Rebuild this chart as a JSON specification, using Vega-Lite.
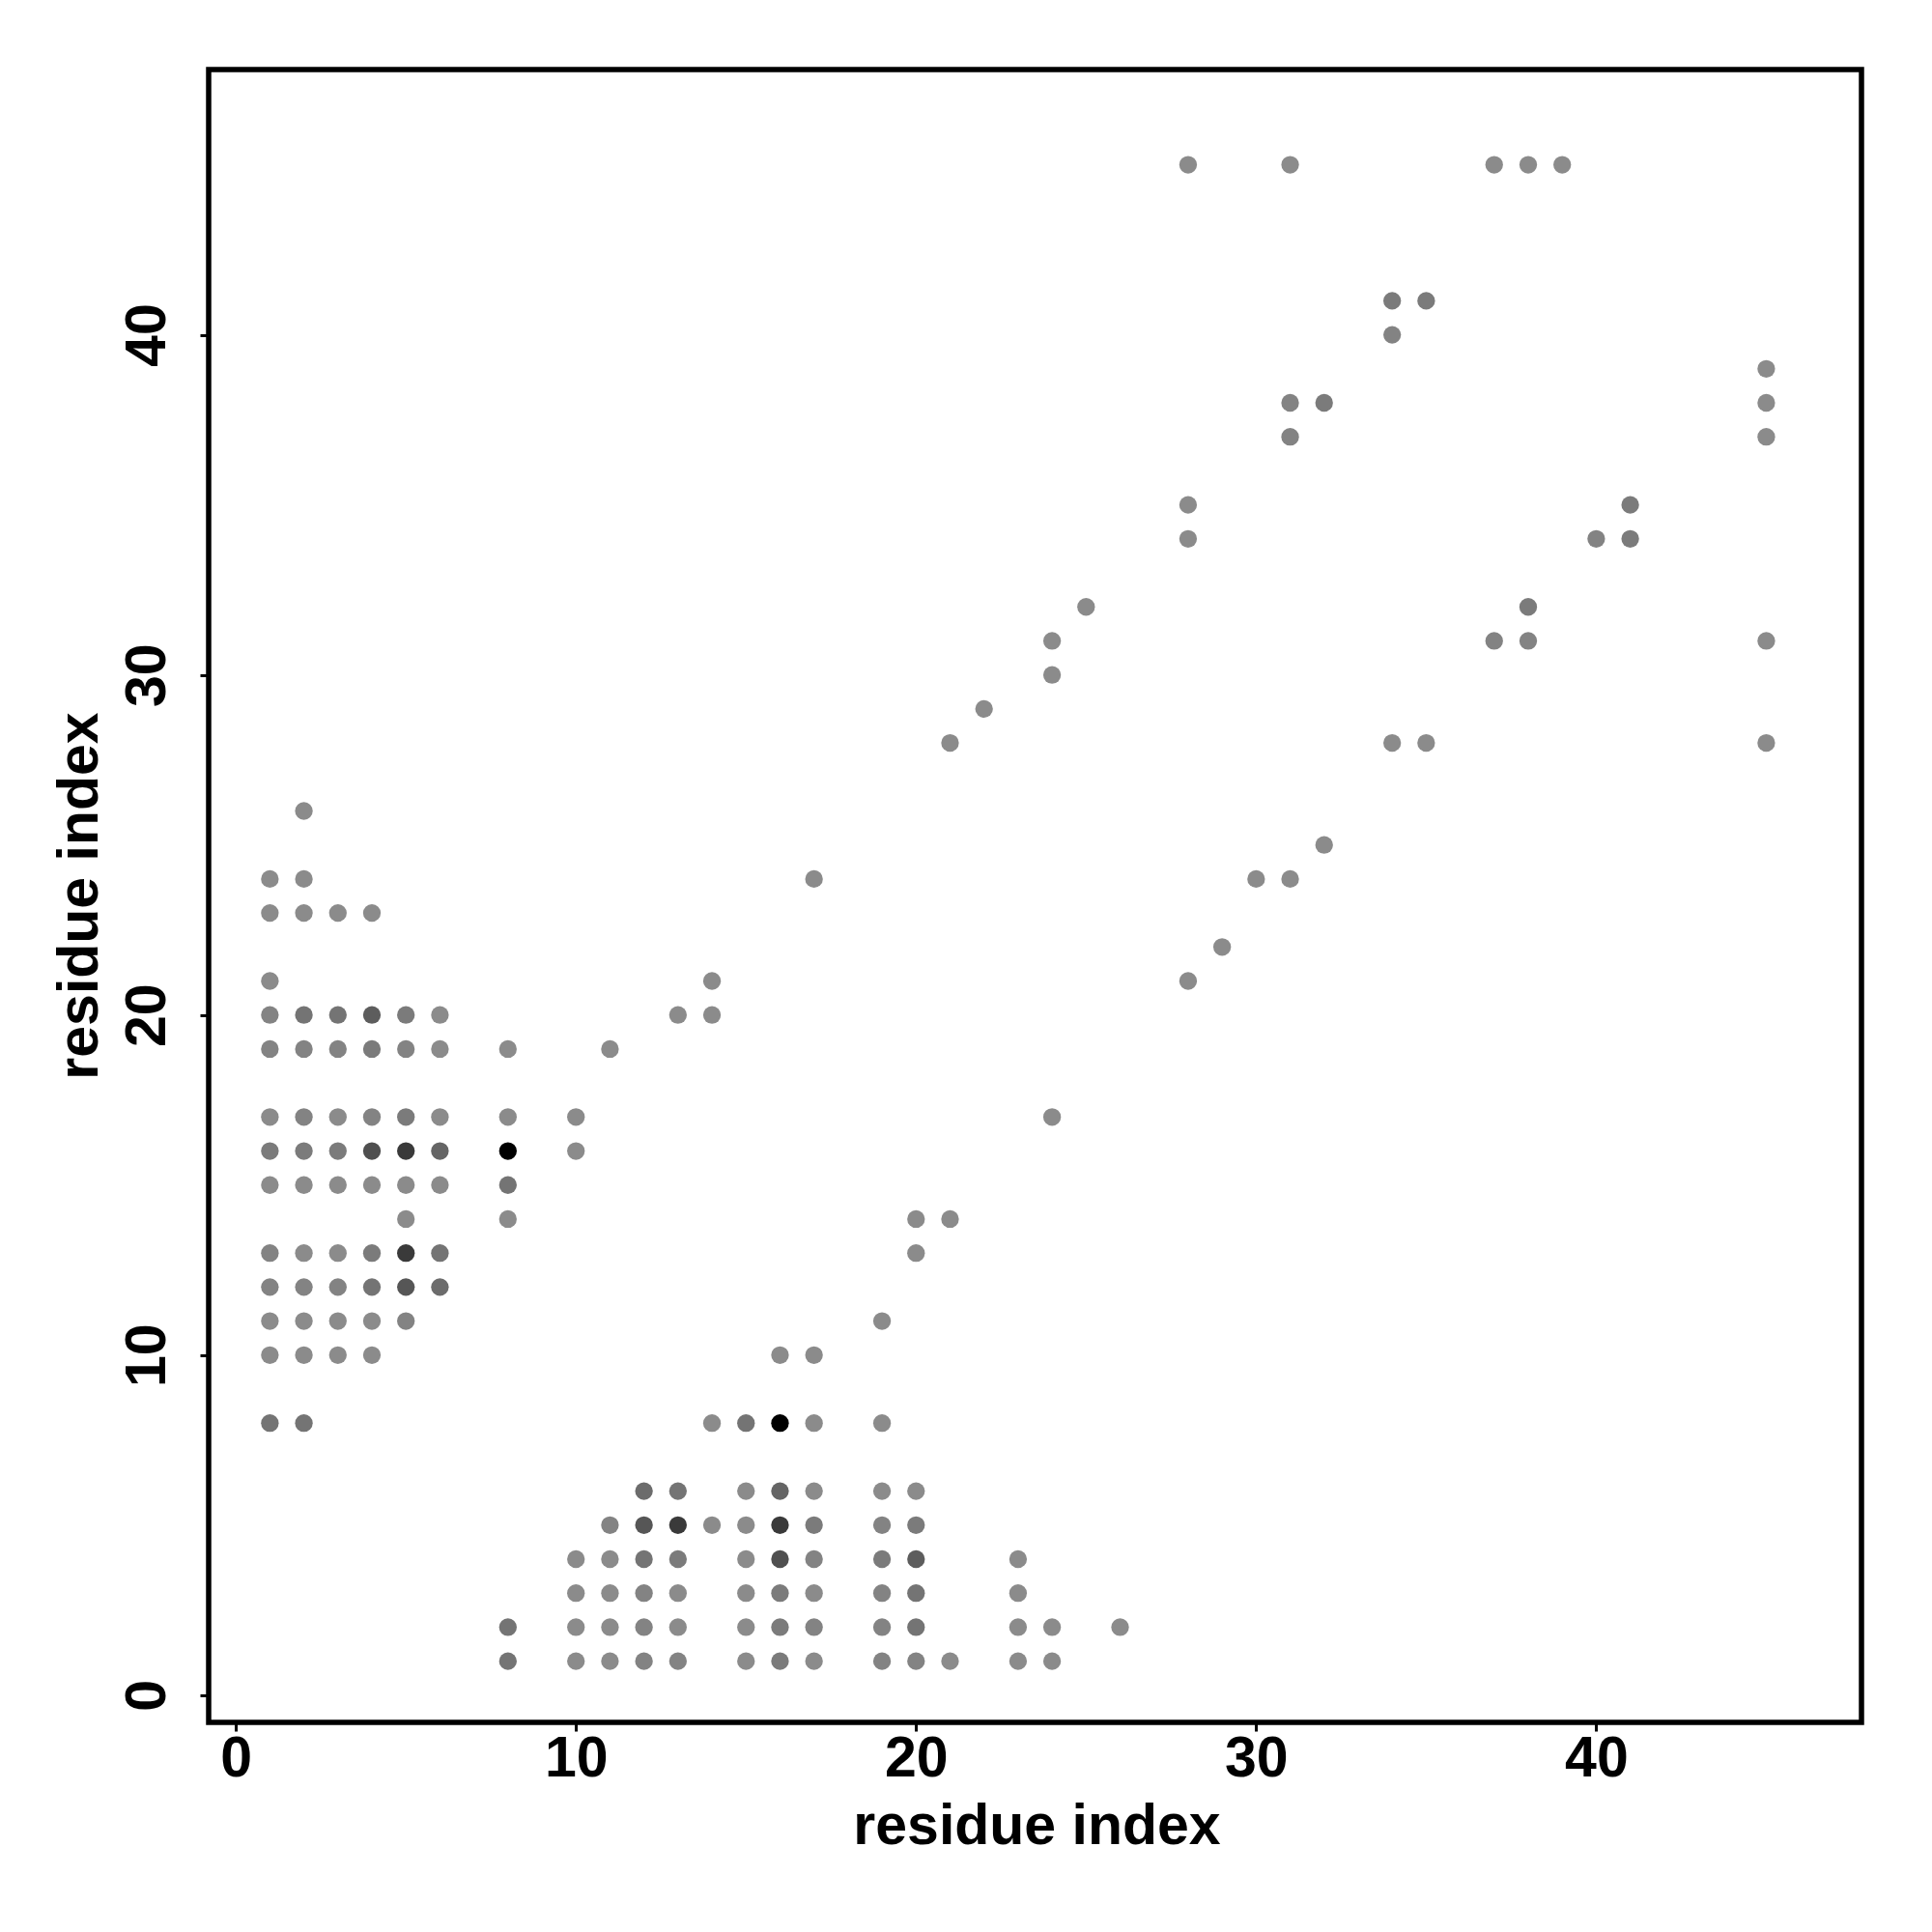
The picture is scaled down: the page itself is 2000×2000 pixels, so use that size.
{
  "$schema": "https://vega.github.io/schema/vega-lite/v6.json",
  "width": 1711,
  "height": 1711,
  "autosize": {"type": "none"},
  "padding": {"left": 216, "top": 72, "right": 73, "bottom": 217},
  "background": "white",
  "config": {
    "view": {"stroke": "#000000", "strokeWidth": 5.5},
    "font": "Liberation Sans"
  },
  "data": {
    "values": [
      {"x":2,"y":26,"f":1},
      {"x":1,"y":24,"f":1},{"x":2,"y":24,"f":1},
      {"x":1,"y":23,"f":1},{"x":2,"y":23,"f":1},{"x":3,"y":23,"f":1},{"x":4,"y":23,"f":1},
      {"x":1,"y":21,"f":1},
      {"x":1,"y":20,"f":2},{"x":2,"y":20,"f":4},{"x":3,"y":20,"f":4},{"x":4,"y":20,"f":7},{"x":5,"y":20,"f":3},{"x":6,"y":20,"f":1},
      {"x":1,"y":19,"f":2},{"x":2,"y":19,"f":2},{"x":3,"y":19,"f":2},{"x":4,"y":19,"f":3},{"x":5,"y":19,"f":2},{"x":6,"y":19,"f":1},{"x":8,"y":19,"f":1},
      {"x":1,"y":17,"f":1},{"x":2,"y":17,"f":2},{"x":3,"y":17,"f":1},{"x":4,"y":17,"f":2},{"x":5,"y":17,"f":3},{"x":6,"y":17,"f":1},{"x":8,"y":17,"f":1},{"x":10,"y":17,"f":1},
      {"x":1,"y":16,"f":3},{"x":2,"y":16,"f":3},{"x":3,"y":16,"f":3},{"x":4,"y":16,"f":9},{"x":5,"y":16,"f":12},{"x":6,"y":16,"f":6},{"x":8,"y":16,"f":20},{"x":10,"y":16,"f":1},
      {"x":1,"y":15,"f":1},{"x":2,"y":15,"f":1},{"x":3,"y":15,"f":1},{"x":4,"y":15,"f":1},{"x":5,"y":15,"f":1},{"x":6,"y":15,"f":1},{"x":8,"y":15,"f":4},
      {"x":5,"y":14,"f":1},{"x":8,"y":14,"f":1},
      {"x":1,"y":13,"f":2},{"x":2,"y":13,"f":1},{"x":3,"y":13,"f":1},{"x":4,"y":13,"f":3},{"x":5,"y":13,"f":12},{"x":6,"y":13,"f":4},
      {"x":1,"y":12,"f":2},{"x":2,"y":12,"f":2},{"x":3,"y":12,"f":2},{"x":4,"y":12,"f":4},{"x":5,"y":12,"f":8},{"x":6,"y":12,"f":5},
      {"x":1,"y":11,"f":1},{"x":2,"y":11,"f":1},{"x":3,"y":11,"f":1},{"x":4,"y":11,"f":1},{"x":5,"y":11,"f":2},
      {"x":1,"y":10,"f":1},{"x":2,"y":10,"f":1},{"x":3,"y":10,"f":1},{"x":4,"y":10,"f":1},
      {"x":1,"y":8,"f":4},{"x":2,"y":8,"f":4},
      {"x":11,"y":19,"f":1},{"x":13,"y":20,"f":1},{"x":14,"y":20,"f":1},{"x":14,"y":21,"f":1},{"x":17,"y":24,"f":1},
      {"x":21,"y":28,"f":1},{"x":22,"y":29,"f":1},{"x":24,"y":30,"f":1},{"x":24,"y":31,"f":1},{"x":25,"y":32,"f":1},
      {"x":28,"y":34,"f":1},{"x":28,"y":35,"f":1},{"x":28,"y":45,"f":1},{"x":31,"y":45,"f":1},
      {"x":31,"y":37,"f":2},{"x":31,"y":38,"f":2},{"x":32,"y":38,"f":3},
      {"x":34,"y":40,"f":2},{"x":34,"y":41,"f":3},{"x":35,"y":41,"f":3},
      {"x":37,"y":45,"f":1},{"x":38,"y":45,"f":1},{"x":39,"y":45,"f":1},

      {"x":26,"y":2,"f":1},
      {"x":24,"y":1,"f":1},{"x":24,"y":2,"f":1},
      {"x":23,"y":1,"f":1},{"x":23,"y":2,"f":1},{"x":23,"y":3,"f":1},{"x":23,"y":4,"f":1},
      {"x":21,"y":1,"f":1},
      {"x":20,"y":1,"f":2},{"x":20,"y":2,"f":4},{"x":20,"y":3,"f":4},{"x":20,"y":4,"f":7},{"x":20,"y":5,"f":3},{"x":20,"y":6,"f":1},
      {"x":19,"y":1,"f":2},{"x":19,"y":2,"f":2},{"x":19,"y":3,"f":2},{"x":19,"y":4,"f":3},{"x":19,"y":5,"f":2},{"x":19,"y":6,"f":1},{"x":19,"y":8,"f":1},
      {"x":17,"y":1,"f":1},{"x":17,"y":2,"f":2},{"x":17,"y":3,"f":1},{"x":17,"y":4,"f":2},{"x":17,"y":5,"f":3},{"x":17,"y":6,"f":1},{"x":17,"y":8,"f":1},{"x":17,"y":10,"f":1},
      {"x":16,"y":1,"f":3},{"x":16,"y":2,"f":3},{"x":16,"y":3,"f":3},{"x":16,"y":4,"f":9},{"x":16,"y":5,"f":12},{"x":16,"y":6,"f":6},{"x":16,"y":8,"f":20},{"x":16,"y":10,"f":1},
      {"x":15,"y":1,"f":1},{"x":15,"y":2,"f":1},{"x":15,"y":3,"f":1},{"x":15,"y":4,"f":1},{"x":15,"y":5,"f":1},{"x":15,"y":6,"f":1},{"x":15,"y":8,"f":4},
      {"x":14,"y":5,"f":1},{"x":14,"y":8,"f":1},
      {"x":13,"y":1,"f":2},{"x":13,"y":2,"f":1},{"x":13,"y":3,"f":1},{"x":13,"y":4,"f":3},{"x":13,"y":5,"f":12},{"x":13,"y":6,"f":4},
      {"x":12,"y":1,"f":2},{"x":12,"y":2,"f":2},{"x":12,"y":3,"f":2},{"x":12,"y":4,"f":4},{"x":12,"y":5,"f":8},{"x":12,"y":6,"f":5},
      {"x":11,"y":1,"f":1},{"x":11,"y":2,"f":1},{"x":11,"y":3,"f":1},{"x":11,"y":4,"f":1},{"x":11,"y":5,"f":2},
      {"x":10,"y":1,"f":1},{"x":10,"y":2,"f":1},{"x":10,"y":3,"f":1},{"x":10,"y":4,"f":1},
      {"x":8,"y":1,"f":4},{"x":8,"y":2,"f":4},
      {"x":19,"y":11,"f":1},{"x":20,"y":13,"f":1},{"x":20,"y":14,"f":1},{"x":21,"y":14,"f":1},{"x":24,"y":17,"f":1},
      {"x":28,"y":21,"f":1},{"x":29,"y":22,"f":1},{"x":30,"y":24,"f":1},{"x":31,"y":24,"f":1},{"x":32,"y":25,"f":1},
      {"x":34,"y":28,"f":1},{"x":35,"y":28,"f":1},{"x":45,"y":28,"f":1},{"x":45,"y":31,"f":1},
      {"x":37,"y":31,"f":2},{"x":38,"y":31,"f":2},{"x":38,"y":32,"f":3},
      {"x":40,"y":34,"f":2},{"x":41,"y":34,"f":3},{"x":41,"y":35,"f":3},
      {"x":45,"y":37,"f":1},{"x":45,"y":38,"f":1},{"x":45,"y":39,"f":1}
    ]
  },
  "mark": {"type": "point", "shape": "circle", "filled": true, "size": 335, "opacity": 1, "strokeWidth": 0},
  "encoding": {
    "x": {
      "field": "x",
      "type": "quantitative",
      "scale": {"domain": [-0.8, 47.8], "nice": false, "zero": false},
      "axis": {
        "values": [0, 10, 20, 30, 40],
        "domain": false,
        "grid": false,
        "ticks": true,
        "tickSize": 9,
        "tickWidth": 3,
        "tickColor": "#000000",
        "labelFont": "Liberation Sans",
        "labelFontWeight": "bold",
        "labelFontSize": 59,
        "labelColor": "#000000",
        "labelBaseline": "alphabetic",
        "labelAlign": "center",
        "labelAngle": 0,
        "labelPadding": 46,
        "labelFlush": false,
        "labelOverlap": false,
        "title": "residue index",
        "titleFont": "Liberation Sans",
        "titleFontWeight": "bold",
        "titleFontSize": 59,
        "titleColor": "#000000",
        "titleBaseline": "alphabetic",
        "titleAlign": "center",
        "titleAngle": 0,
        "titleX": 857,
        "titleY": 125
      }
    },
    "y": {
      "field": "y",
      "type": "quantitative",
      "scale": {"domain": [-0.8, 47.8], "nice": false, "zero": false},
      "axis": {
        "values": [0, 10, 20, 30, 40],
        "domain": false,
        "grid": false,
        "ticks": true,
        "tickSize": 9,
        "tickWidth": 3,
        "tickColor": "#000000",
        "labelFont": "Liberation Sans",
        "labelFontWeight": "bold",
        "labelFontSize": 59,
        "labelColor": "#000000",
        "labelBaseline": "alphabetic",
        "labelAlign": "center",
        "labelAngle": 270,
        "labelPadding": 37,
        "labelFlush": false,
        "labelOverlap": false,
        "title": "residue index",
        "titleFont": "Liberation Sans",
        "titleFontWeight": "bold",
        "titleFontSize": 59,
        "titleColor": "#000000",
        "titleBaseline": "alphabetic",
        "titleAlign": "center",
        "titleAngle": 270,
        "titleX": -116,
        "titleY": 855
      }
    },
    "color": {
      "field": "f",
      "type": "quantitative",
      "scale": {"domain": [1, 20], "range": ["#8b8b8b", "#000000"]},
      "legend": null
    }
  }
}
